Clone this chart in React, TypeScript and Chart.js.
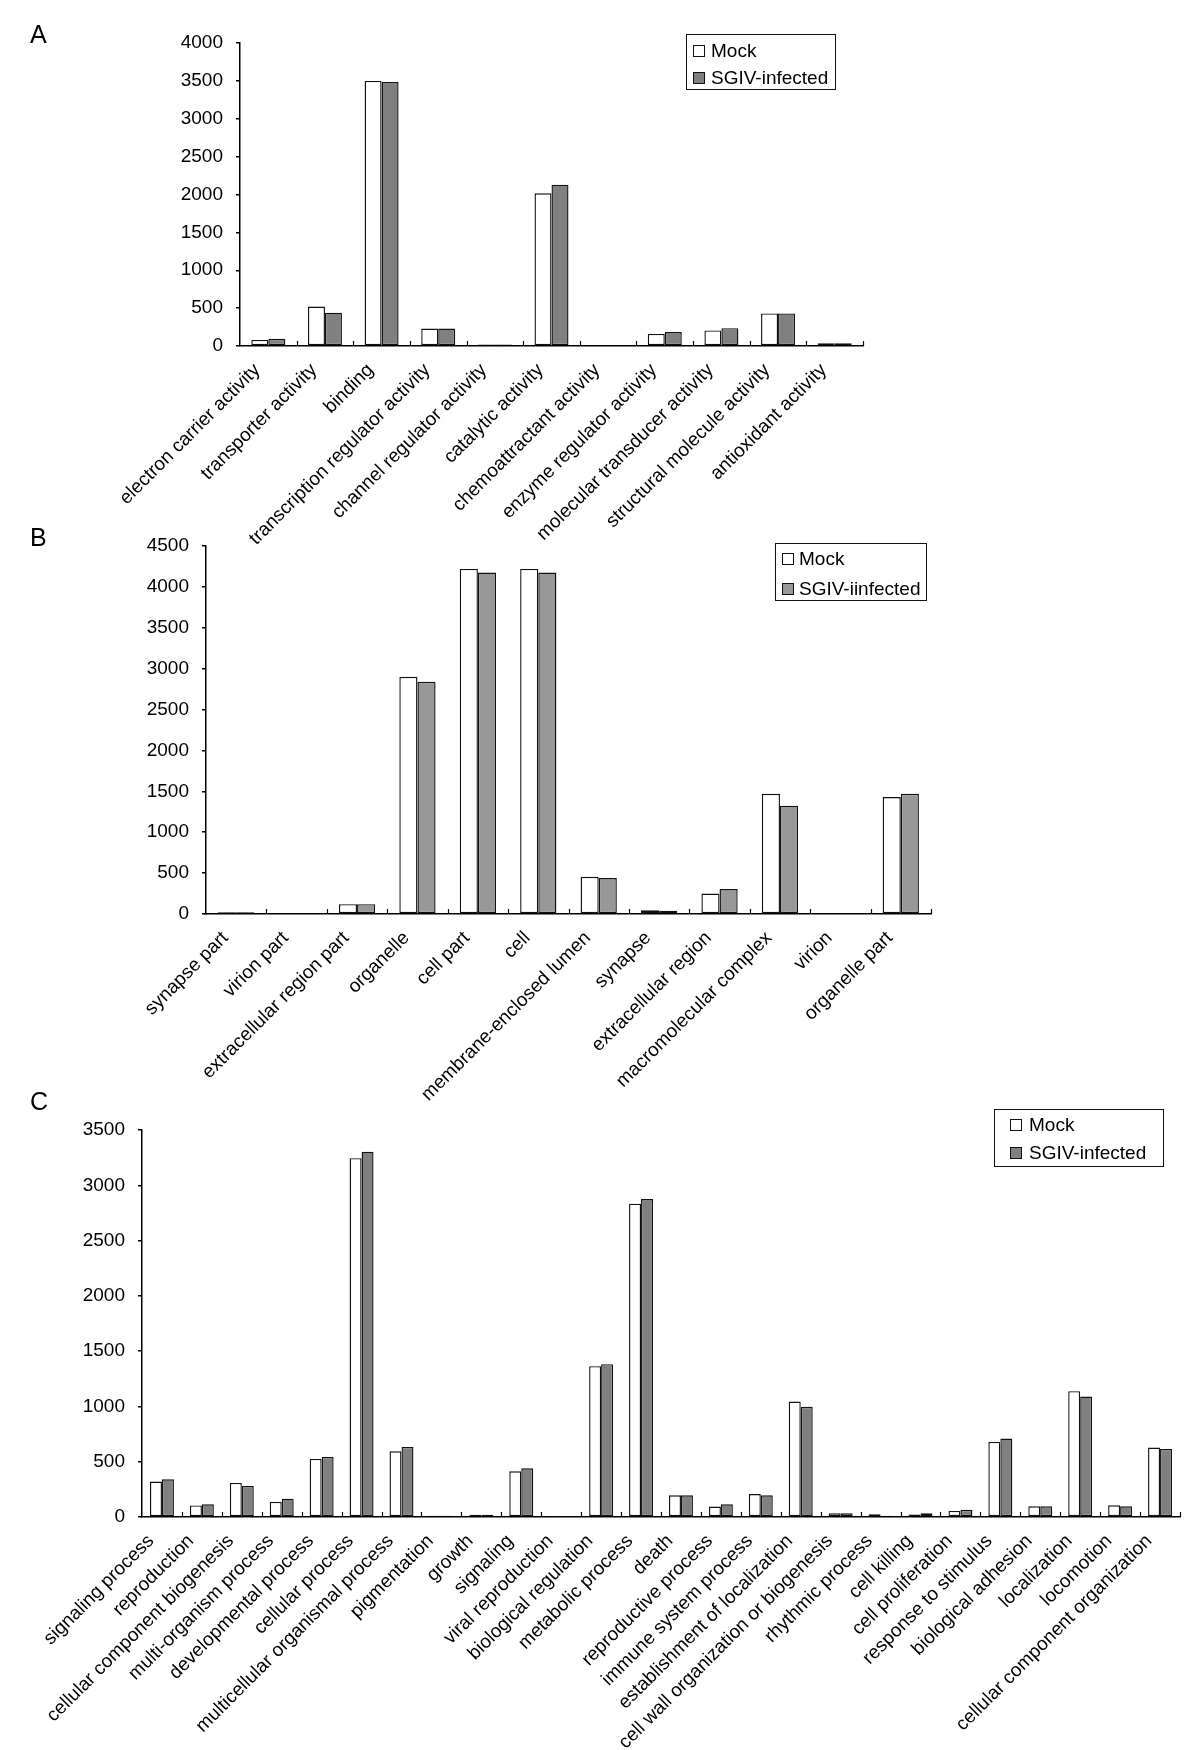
import React, { useEffect, useRef } from 'react';
import { Chart, registerables } from 'chart.js';

Chart.register(...registerables);

const FONT = '"Liberation Sans", Arial, Helvetica, sans-serif';

// ---------- Panel A data ----------
const categoriesA = [
  'electron carrier activity',
  'transporter activity',
  'binding',
  'transcription regulator activity',
  'channel regulator activity',
  'catalytic activity',
  'chemoattractant activity',
  'enzyme regulator activity',
  'molecular transducer activity',
  'structural molecule activity',
  'antioxidant activity',
];
const mockA = [80, 520, 3500, 230, 20, 2015, 0, 160, 205, 430, 35];
const sgivA = [95, 440, 3485, 230, 20, 2130, 0, 185, 235, 430, 35];
const seriesNamesA = ['Mock', 'SGIV-infected'];

// ---------- Panel B data ----------
const categoriesB = [
  'synapse part',
  'virion part',
  'extracellular region part',
  'organelle',
  'cell part',
  'cell',
  'membrane-enclosed lumen',
  'synapse',
  'extracellular region',
  'macromolecular complex',
  'virion',
  'organelle part',
];
const mockB = [22, 0, 120, 2900, 4220, 4220, 455, 45, 250, 1470, 0, 1430];
const sgivB = [22, 0, 120, 2840, 4175, 4175, 440, 40, 305, 1325, 0, 1470];
const seriesNamesB = ['Mock', 'SGIV-iinfected'];

// ---------- Panel C data ----------
const categoriesC = [
  'signaling process',
  'reproduction',
  'cellular component biogenesis',
  'multi-organism process',
  'developmental process',
  'cellular process',
  'multicellular organismal process',
  'pigmentation',
  'growth',
  'signaling',
  'viral reproduction',
  'biological regulation',
  'metabolic process',
  'death',
  'reproductive process',
  'immune system process',
  'establishment of localization',
  'cell wall organization or biogenesis',
  'rhythmic process',
  'cell killing',
  'cell proliferation',
  'response to stimulus',
  'biological adhesion',
  'localization',
  'locomotion',
  'cellular component organization',
];
const mockC = [320, 105, 308, 136, 525, 3245, 594, 12, 20, 413, 2, 1364, 2834, 196, 94, 208, 1044, 35, 24, 22, 55, 679, 97, 1138, 106, 628];
const sgivC = [341, 115, 281, 166, 543, 3304, 634, 12, 20, 441, 10, 1382, 2876, 196, 115, 196, 996, 35, 12, 33, 65, 709, 97, 1089, 97, 616];
const seriesNamesC = ['Mock', 'SGIV-infected'];

const yTicksA = { max: 4000, step: 500 };
const yTicksB = { max: 4500, step: 500 };
const yTicksC = { max: 3500, step: 500 };

const boundaryTicks = {
  id: 'boundaryTicks',
  afterDatasetsDraw(chart: any) {
    const xs = chart.scales.x;
    const ctx = chart.ctx;
    const n = chart.data.labels.length;
    ctx.save();
    ctx.strokeStyle = '#000';
    ctx.lineWidth = 1.2;
    for (let i = 1; i <= n; i++) {
      const px = Math.round(xs.getPixelForValue(i - 0.5)) + 0.5;
      ctx.beginPath();
      ctx.moveTo(px, xs.top);
      ctx.lineTo(px, xs.top - 5);
      ctx.stroke();
    }
    ctx.restore();
  },
};

type Spec = {
  labels: string[];
  mock: number[];
  sgiv: number[];
  names: string[];
  sgivColor: string;
  yMax: number;
  yStep: number;
  canvasTop: number;
  canvasHeight: number;
  areaLeft: number;
  areaRight: number;
  areaTop: number;
  areaBottom: number;
};

function BarPanel({ spec }: { spec: Spec }) {
  const ref = useRef<HTMLCanvasElement>(null);
  useEffect(() => {
    if (!ref.current) return;
    const s = spec;
    const chart = new Chart(ref.current, {
      type: 'bar',
      data: {
        labels: s.labels,
        datasets: [
          {
            label: s.names[0],
            data: s.mock,
            backgroundColor: '#ffffff',
            borderColor: '#111111',
            borderWidth: 1.4,
            borderSkipped: false,
            categoryPercentage: 0.6,
            barPercentage: 1.0,
          },
          {
            label: s.names[1],
            data: s.sgiv,
            backgroundColor: s.sgivColor,
            borderColor: '#111111',
            borderWidth: 1.4,
            borderSkipped: false,
            categoryPercentage: 0.6,
            barPercentage: 1.0,
          },
        ],
      },
      options: {
        responsive: false,
        animation: false,
        events: [],
        layout: {
          padding: {
            top: s.areaTop - s.canvasTop,
            right: 1200 - s.areaRight,
            left: 0,
            bottom: 0,
          },
        },
        plugins: {
          legend: { display: false },
          tooltip: { enabled: false },
          title: { display: false },
        },
        scales: {
          x: {
            type: 'category',
            offset: true,
            grid: { display: false },
            border: { display: true, color: '#000', width: 1.5 },
            ticks: {
              autoSkip: false,
              maxRotation: 45,
              minRotation: 45,
              padding: 5,
              labelOffset: -11,
              color: '#000',
              font: { family: FONT, size: 19 },
            },
            afterFit: (sc: any) => {
              sc.height = s.canvasTop + s.canvasHeight - s.areaBottom;
            },
          },
          y: {
            min: 0,
            max: s.yMax,
            grid: {
              drawOnChartArea: false,
              drawTicks: true,
              tickLength: 4,
              color: '#000',
              lineWidth: 1.5,
            },
            border: { display: true, color: '#000', width: 1.5 },
            ticks: {
              stepSize: s.yStep,
              padding: 13,
              color: '#000',
              font: { family: FONT, size: 19 },
              callback: (v: any) => String(v),
            },
            afterFit: (sc: any) => {
              sc.width = s.areaLeft;
            },
          },
        },
      },
      plugins: [boundaryTicks],
    });
    return () => chart.destroy();
  }, [spec]);
  return (
    <canvas
      ref={ref}
      width={1200}
      height={spec.canvasHeight}
      style={{ position: 'absolute', left: 0, top: spec.canvasTop, width: 1200, height: spec.canvasHeight }}
    />
  );
}

type LegendProps = {
  left: number;
  top: number;
  width: number;
  height: number;
  squareLeft: number;
  textLeft: number;
  rowCenters: number[];
  names: string[];
  colors: string[];
};

function Legend(p: LegendProps) {
  return (
    <>
      <div
        style={{
          position: 'absolute',
          left: p.left,
          top: p.top,
          width: p.width,
          height: p.height,
          border: '1.5px solid #111',
          boxSizing: 'border-box',
          background: 'transparent',
        }}
      />
      {p.names.map((n, i) => (
        <React.Fragment key={n}>
          <div
            style={{
              position: 'absolute',
              left: p.squareLeft,
              top: p.rowCenters[i] - 6,
              width: 12,
              height: 12,
              border: '1.3px solid #111',
              boxSizing: 'border-box',
              background: p.colors[i],
            }}
          />
          <div
            style={{
              position: 'absolute',
              left: p.textLeft,
              top: p.rowCenters[i] - 10,
              height: 20,
              lineHeight: '20px',
              fontFamily: FONT,
              fontSize: 19,
              color: '#000',
              whiteSpace: 'nowrap',
            }}
          >
            {n}
          </div>
        </React.Fragment>
      ))}
    </>
  );
}

function PanelLetter({ text, left, top }: { text: string; left: number; top: number }) {
  return (
    <div
      style={{
        position: 'absolute',
        left,
        top,
        fontFamily: FONT,
        fontSize: 25,
        lineHeight: '25px',
        color: '#000',
      }}
    >
      {text}
    </div>
  );
}

const specA: Spec = {
  labels: categoriesA,
  mock: mockA,
  sgiv: sgivA,
  names: seriesNamesA,
  sgivColor: '#808080',
  yMax: yTicksA.max,
  yStep: yTicksA.step,
  canvasTop: 0,
  canvasHeight: 560,
  areaLeft: 240,
  areaRight: 863,
  areaTop: 43,
  areaBottom: 346,
};

const specB: Spec = {
  labels: categoriesB,
  mock: mockB,
  sgiv: sgivB,
  names: seriesNamesB,
  sgivColor: '#989898',
  yMax: yTicksB.max,
  yStep: yTicksB.step,
  canvasTop: 500,
  canvasHeight: 620,
  areaLeft: 206,
  areaRight: 931,
  areaTop: 546,
  areaBottom: 914,
};

const specC: Spec = {
  labels: categoriesC,
  mock: mockC,
  sgiv: sgivC,
  names: seriesNamesC,
  sgivColor: '#808080',
  yMax: yTicksC.max,
  yStep: yTicksC.step,
  canvasTop: 1080,
  canvasHeight: 670,
  areaLeft: 142,
  areaRight: 1180,
  areaTop: 1130,
  areaBottom: 1517,
};

export default function App() {
  return (
    <div
      style={{
        position: 'absolute',
        left: 0,
        top: 0,
        width: 1200,
        height: 1750,
        background: '#ffffff',
        overflow: 'hidden',
      }}
    >
      <BarPanel spec={specA} />
      <BarPanel spec={specB} />
      <BarPanel spec={specC} />
      <PanelLetter text="A" left={30} top={22} />
      <PanelLetter text="B" left={30} top={525} />
      <PanelLetter text="C" left={30} top={1089} />
      <Legend
        left={686}
        top={34}
        width={150}
        height={56}
        squareLeft={693}
        textLeft={711}
        rowCenters={[51, 78]}
        names={seriesNamesA}
        colors={['#ffffff', '#808080']}
      />
      <Legend
        left={775}
        top={543}
        width={152}
        height={58}
        squareLeft={782}
        textLeft={799}
        rowCenters={[559, 589]}
        names={seriesNamesB}
        colors={['#ffffff', '#989898']}
      />
      <Legend
        left={994}
        top={1109}
        width={170}
        height={58}
        squareLeft={1010}
        textLeft={1029}
        rowCenters={[1125, 1153]}
        names={seriesNamesC}
        colors={['#ffffff', '#808080']}
      />
    </div>
  );
}
